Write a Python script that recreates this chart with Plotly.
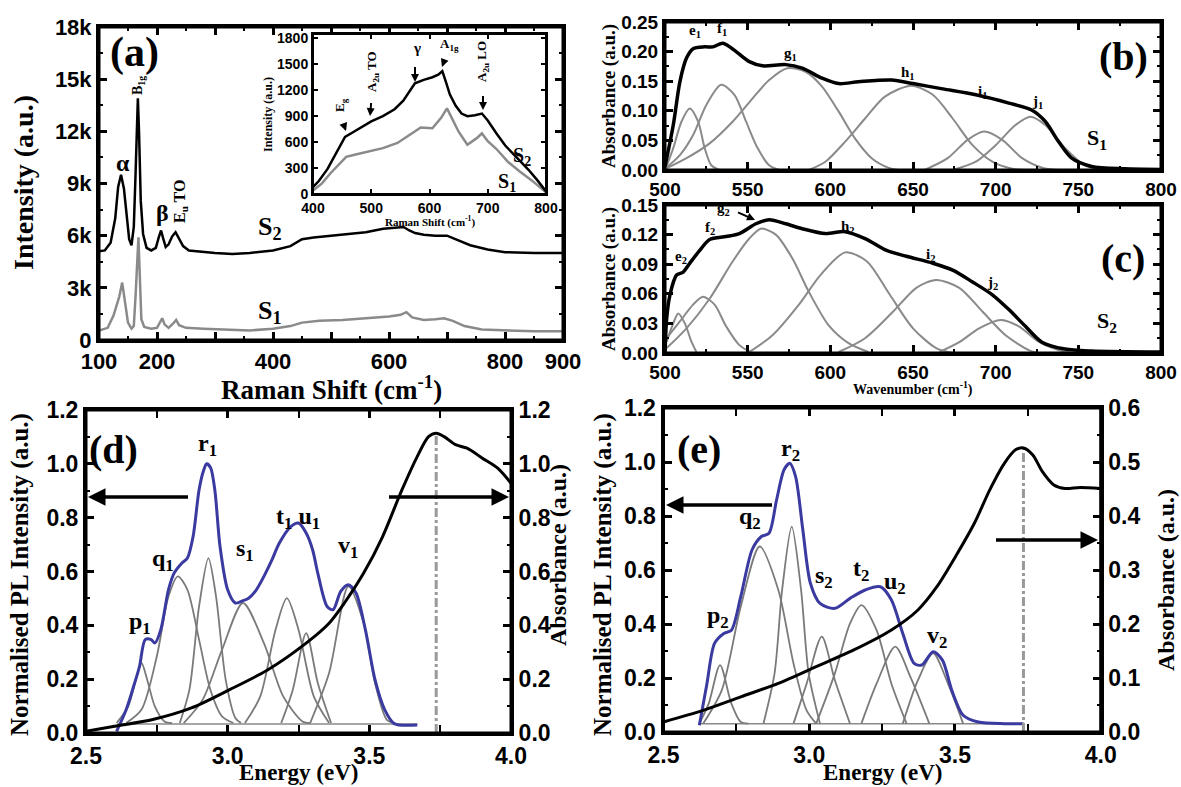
import plotly.graph_objects as go

W, H = 1181, 787

# ---------------- DATA ----------------
# (a) Raman spectra (cm^-1 , intensity)
raman_s2_x = [100, 110, 120, 128, 133, 138, 143, 148, 152, 156, 160, 163, 165, 167, 169, 172, 176, 182, 190, 198, 203, 207, 211, 215, 220, 226, 232, 237, 245, 255, 270, 300, 330, 360, 400, 430, 450, 470, 500, 530, 560, 590, 610, 625, 635, 645, 660, 680, 700, 715, 740, 770, 800, 850, 900]
raman_s2_y = [5100, 5150, 5600, 7000, 8800, 9500, 8700, 6900, 5800, 5450, 6500, 9500, 12500, 13900, 12000, 8000, 6100, 5300, 5150, 5300, 5900, 6300, 5800, 5350, 5500, 5950, 6200, 5900, 5400, 5150, 5100, 5000, 4950, 5000, 5150, 5400, 5800, 5900, 6000, 6100, 6200, 6400, 6450, 6500, 6300, 6150, 6050, 6000, 6000, 5800, 5450, 5200, 5050, 5000, 5000]
raman_s1_x = [100, 115, 125, 130, 135, 140, 145, 150, 156, 160, 163, 166, 168, 170, 173, 178, 190, 200, 206, 209, 213, 220, 228, 233, 238, 250, 280, 320, 360, 400, 430, 450, 480, 520, 560, 600, 620, 630, 640, 660, 680, 695, 710, 730, 760, 800, 850, 900]
raman_s1_y = [550, 700, 1400, 2000, 2500, 3300, 2000, 1000, 650, 800, 2500, 5000, 5900, 4000, 1200, 750, 650, 700, 1100, 1250, 900, 700, 950, 1150, 850, 700, 650, 600, 550, 650, 800, 1000, 1100, 1150, 1250, 1350, 1450, 1600, 1300, 1150, 1200, 1250, 1100, 800, 600, 550, 500, 500]

# (a) inset
inset_s2_x = [400, 410, 425, 440, 455, 465, 480, 500, 520, 540, 555, 575, 590, 605, 615, 622, 628, 635, 645, 655, 665, 678, 690, 700, 715, 730, 750, 770, 785, 800]
inset_s2_y = [80, 150, 290, 470, 660, 700, 760, 840, 900, 980, 1080, 1280, 1320, 1350, 1380, 1420, 1300, 1150, 1020, 930, 900, 910, 930, 850, 700, 560, 420, 280, 160, 30]
inset_s1_x = [400, 415, 430, 445, 457, 475, 495, 520, 545, 565, 585, 605, 620, 630, 640, 650, 665, 680, 690, 700, 715, 735, 755, 775, 800]
inset_s1_y = [40, 120, 240, 340, 430, 460, 490, 530, 590, 680, 770, 760, 880, 990, 850, 720, 570, 640, 700, 610, 520, 370, 260, 160, 20]

# (b) absorbance S1 + components
b_total_x = [500, 505, 509, 513, 517, 524, 529, 535, 543, 551, 559, 573, 583, 595, 605, 617, 637, 650, 668, 688, 708, 722, 730, 738, 746, 758, 778, 800]
b_total_y = [0.006, 0.076, 0.149, 0.189, 0.205, 0.208, 0.208, 0.214, 0.200, 0.183, 0.176, 0.178, 0.172, 0.155, 0.146, 0.149, 0.152, 0.146, 0.137, 0.127, 0.113, 0.101, 0.082, 0.048, 0.020, 0.006, 0.002, 0.001]
b_e1_x = [500, 505, 510, 515, 520, 524, 528, 533]
b_e1_y = [0.0, 0.037, 0.082, 0.104, 0.082, 0.037, 0.008, 0.0]
b_f1_x = [500, 509, 517, 525, 534, 542, 549, 556, 563, 569]
b_f1_y = [0.002, 0.025, 0.059, 0.110, 0.144, 0.127, 0.082, 0.037, 0.008, 0.0]
b_g1_x = [501, 513, 527, 541, 553, 563, 574, 585, 595, 605, 615, 625, 635, 641]
b_g1_y = [0.003, 0.020, 0.045, 0.082, 0.121, 0.152, 0.172, 0.166, 0.141, 0.099, 0.053, 0.020, 0.004, 0.0]
b_h1_x = [587, 597, 609, 621, 633, 649, 662, 674, 686, 698, 710, 718]
b_h1_y = [0.0, 0.014, 0.048, 0.087, 0.124, 0.1425, 0.127, 0.087, 0.042, 0.014, 0.002, 0.0]
b_i1_x = [657, 671, 683, 693, 704, 716, 729, 739]
b_i1_y = [0.0, 0.020, 0.051, 0.065, 0.051, 0.020, 0.003, 0.0]
b_j1_x = [674, 688, 700, 712, 721, 730, 742, 754, 764]
b_j1_y = [0.0, 0.014, 0.042, 0.076, 0.090, 0.076, 0.037, 0.008, 0.0]

# (c) absorbance S2 + components
c_total_x = [500, 501, 503, 507, 511, 515, 521, 527, 537, 545, 555, 563, 573, 583, 597, 609, 621, 634, 646, 662, 674, 686, 698, 708, 718, 728, 742, 758, 800]
c_total_y = [0.0, 0.035, 0.059, 0.079, 0.082, 0.091, 0.104, 0.115, 0.118, 0.121, 0.131, 0.135, 0.131, 0.126, 0.121, 0.123, 0.116, 0.104, 0.098, 0.091, 0.084, 0.072, 0.059, 0.044, 0.027, 0.011, 0.004, 0.002, 0.001]
c_e2_x = [501, 505, 508, 512, 516, 519]
c_e2_y = [0.0115, 0.030, 0.040, 0.030, 0.0115, 0.001]
c_f2_x = [501, 509, 517, 523, 530, 537, 545, 553]
c_f2_y = [0.015, 0.032, 0.049, 0.057, 0.049, 0.027, 0.008, 0.0]
c_g2_x = [501, 513, 527, 541, 551, 558, 567, 577, 587, 599, 611, 623]
c_g2_y = [0.005, 0.025, 0.055, 0.093, 0.116, 0.126, 0.120, 0.096, 0.062, 0.028, 0.010, 0.001]
c_h2_x = [551, 565, 581, 594, 609, 622, 636, 650, 664, 674]
c_h2_y = [0.001, 0.018, 0.049, 0.079, 0.102, 0.093, 0.059, 0.025, 0.005, 0.0]
c_i2_x = [605, 621, 638, 652, 664, 678, 692, 706, 720, 726]
c_i2_y = [0.001, 0.015, 0.042, 0.066, 0.074, 0.066, 0.042, 0.018, 0.003, 0.0]
c_j2_x = [666, 678, 690, 703, 714, 726, 738, 746]
c_j2_y = [0.001, 0.011, 0.025, 0.0335, 0.027, 0.0115, 0.003, 0.0]

# (d) PL S1 (energy eV, normalised intensity) + absorbance
d_pl_x = [2.608, 2.642, 2.670, 2.689, 2.709, 2.730, 2.743, 2.764, 2.791, 2.811, 2.838, 2.858, 2.878, 2.899, 2.915, 2.926, 2.940, 2.955, 2.973, 3.000, 3.027, 3.050, 3.074, 3.100, 3.128, 3.155, 3.182, 3.223, 3.250, 3.277, 3.300, 3.318, 3.351, 3.372, 3.399, 3.426, 3.453, 3.486, 3.520, 3.554, 3.588, 3.669]
d_pl_y = [0.006, 0.087, 0.180, 0.248, 0.347, 0.347, 0.334, 0.384, 0.532, 0.594, 0.631, 0.650, 0.730, 0.903, 0.975, 1.000, 0.985, 0.900, 0.693, 0.532, 0.483, 0.490, 0.501, 0.530, 0.582, 0.640, 0.705, 0.767, 0.780, 0.743, 0.680, 0.594, 0.470, 0.458, 0.526, 0.551, 0.520, 0.384, 0.198, 0.087, 0.035, 0.030]
d_abs_x = [2.5, 2.601, 2.736, 2.872, 3.007, 3.142, 3.277, 3.358, 3.412, 3.480, 3.547, 3.615, 3.669, 3.709, 3.736, 3.764, 3.804, 3.845, 3.899, 3.953, 4.0]
d_abs_y = [0.006, 0.025, 0.050, 0.093, 0.161, 0.235, 0.334, 0.408, 0.483, 0.594, 0.730, 0.903, 1.027, 1.101, 1.114, 1.101, 1.071, 1.058, 1.021, 0.984, 0.928]
d_peak_E, d_peak_A = 3.736, 1.114
d_base_x = [2.61, 3.67]
d_base_y = [0.033, 0.033]
d_comp = {
    "p1": ([2.608, 2.649, 2.676, 2.696, 2.716, 2.743, 2.777, 2.804], [0.037, 0.099, 0.198, 0.260, 0.198, 0.099, 0.043, 0.037]),
    "q1": ([2.642, 2.696, 2.750, 2.791, 2.824, 2.858, 2.899, 2.939, 2.980, 3.020], [0.037, 0.087, 0.285, 0.507, 0.582, 0.532, 0.347, 0.161, 0.062, 0.037]),
    "r1": ([2.831, 2.865, 2.899, 2.932, 2.959, 2.993, 3.027, 3.047], [0.037, 0.161, 0.470, 0.650, 0.507, 0.198, 0.056, 0.037]),
    "s1": ([2.845, 2.912, 2.980, 3.054, 3.128, 3.196, 3.264, 3.291], [0.037, 0.124, 0.309, 0.483, 0.334, 0.136, 0.043, 0.037]),
    "t1": ([3.061, 3.115, 3.169, 3.209, 3.250, 3.304, 3.358], [0.037, 0.136, 0.384, 0.501, 0.384, 0.136, 0.037]),
    "u1": ([3.189, 3.230, 3.277, 3.318, 3.365], [0.037, 0.161, 0.371, 0.186, 0.037]),
    "v1": ([3.291, 3.358, 3.426, 3.480, 3.520, 3.561, 3.588], [0.037, 0.223, 0.545, 0.408, 0.186, 0.050, 0.037]),
}

# (e) PL S2 + absorbance
e_pl_x = [2.623, 2.649, 2.675, 2.707, 2.733, 2.765, 2.804, 2.836, 2.862, 2.888, 2.914, 2.933, 2.953, 2.978, 3.004, 3.037, 3.088, 3.140, 3.192, 3.244, 3.282, 3.321, 3.360, 3.386, 3.425, 3.457, 3.489, 3.528, 3.580, 3.670, 3.735]
e_pl_y = [0.025, 0.179, 0.328, 0.365, 0.377, 0.501, 0.675, 0.724, 0.736, 0.860, 0.972, 0.995, 0.947, 0.749, 0.551, 0.476, 0.458, 0.495, 0.526, 0.538, 0.489, 0.365, 0.254, 0.248, 0.297, 0.266, 0.155, 0.062, 0.037, 0.031, 0.031]
e_abs_x = [2.5, 2.636, 2.765, 2.894, 3.024, 3.153, 3.282, 3.373, 3.438, 3.502, 3.567, 3.619, 3.670, 3.709, 3.735, 3.767, 3.800, 3.838, 3.877, 3.929, 4.0]
e_abs_y = [0.0186, 0.040, 0.065, 0.090, 0.121, 0.152, 0.189, 0.226, 0.269, 0.325, 0.387, 0.448, 0.498, 0.523, 0.526, 0.513, 0.482, 0.458, 0.451, 0.453, 0.451]
e_peak_E, e_peak_A = 3.735, 0.526
e_base_x = [2.62, 3.74]
e_base_y = [0.031, 0.031]
e_comp = {
    "p2": ([2.623, 2.655, 2.694, 2.733, 2.765, 2.791], [0.031, 0.105, 0.248, 0.105, 0.037, 0.031]),
    "q2": ([2.636, 2.700, 2.765, 2.830, 2.894, 2.946, 2.991, 3.024], [0.031, 0.155, 0.464, 0.687, 0.526, 0.254, 0.080, 0.031]),
    "r2": ([2.843, 2.881, 2.907, 2.940, 2.972, 2.998, 3.037], [0.031, 0.217, 0.526, 0.761, 0.526, 0.217, 0.031]),
    "s2": ([2.946, 2.991, 3.043, 3.088, 3.140], [0.031, 0.179, 0.353, 0.192, 0.031]),
    "t2": ([3.024, 3.088, 3.140, 3.179, 3.231, 3.282, 3.334], [0.031, 0.217, 0.402, 0.470, 0.377, 0.179, 0.031]),
    "u2": ([3.179, 3.231, 3.295, 3.347, 3.412], [0.031, 0.179, 0.316, 0.204, 0.031]),
    "v2": ([3.321, 3.373, 3.425, 3.476, 3.528], [0.031, 0.192, 0.291, 0.179, 0.031]),
}

# tick labels
raman_tickvals = [100, 200, 300, 400, 500, 600, 700, 800, 900]
raman_ticktext = ["100", "200", " ", "400", " ", "600", " ", "800", "900"]
raman_ytickvals = [0, 3000, 6000, 9000, 12000, 15000, 18000]
raman_yticktext = ["0", "3k", "6k", "9k", "12k", "15k", "18k"]

# ---------------- STYLE / LAYOUT HELPERS ----------------
SANS = "Liberation Sans, Arial, sans-serif"
SERIF = "Liberation Serif, Times New Roman, serif"
GRAY = "#8a8a8a"
BLUE = "#3a3aa0"


def X(p):
    return p / W


def Y(p):
    return 1 - p / H


def axis(domain, rng, dtick, minor_dt, size, lw=3, **kw):
    d = dict(domain=domain, range=rng, dtick=dtick, ticks="inside", ticklen=8, tickwidth=2.5,
             showline=True, linewidth=lw, linecolor="black", showgrid=False, zeroline=False,
             automargin=False,
             tickfont=dict(family=SANS, size=size, color="black", weight="bold"),
             minor=dict(dtick=minor_dt, ticks="inside", ticklen=4, tickwidth=2, tickcolor="black"),
             tickcolor="black", mirror="allticks")
    d.update(kw)
    return d


fig = go.Figure()


def line(x, y, xa, ya, color, width, shape="spline", dash="solid", smoothing=0.8):
    ln = dict(color=color, width=width, shape=shape, dash=dash)
    if shape == "spline":
        ln["smoothing"] = smoothing
    fig.add_trace(go.Scatter(x=x, y=y, xaxis=xa, yaxis=ya, mode="lines", line=ln,
                             showlegend=False, hoverinfo="skip"))


# (a)
line(raman_s1_x, raman_s1_y, "x", "y", GRAY, 2.5, shape="linear")
line(raman_s2_x, raman_s2_y, "x", "y", "black", 2.5, shape="linear")
# inset
line(inset_s1_x, inset_s1_y, "x2", "y2", GRAY, 2.5, shape="linear")
line(inset_s2_x, inset_s2_y, "x2", "y2", "black", 2.5, shape="linear")
# (b)
for cx, cy in [(b_e1_x, b_e1_y), (b_f1_x, b_f1_y), (b_g1_x, b_g1_y), (b_h1_x, b_h1_y), (b_i1_x, b_i1_y), (b_j1_x, b_j1_y)]:
    line(cx, cy, "x3", "y3", GRAY, 2)
line(b_total_x, b_total_y, "x3", "y3", "black", 3.5)
# (c)
for cx, cy in [(c_e2_x, c_e2_y), (c_f2_x, c_f2_y), (c_g2_x, c_g2_y), (c_h2_x, c_h2_y), (c_i2_x, c_i2_y), (c_j2_x, c_j2_y)]:
    line(cx, cy, "x4", "y4", GRAY, 2)
line(c_total_x, c_total_y, "x4", "y4", "black", 3.5)
# (d)
line(d_base_x, d_base_y, "x5", "y5", GRAY, 1.5, shape="linear")
for k, (cx, cy) in d_comp.items():
    line(cx, cy, "x5", "y5", "#7a7a7a", 1.8)
line(d_pl_x, d_pl_y, "x5", "y5", BLUE, 3)
line([d_peak_E, d_peak_E], [0, d_peak_A], "x5", "y6", "#999999", 3, shape="linear", dash="dashdot")
line(d_abs_x, d_abs_y, "x5", "y6", "black", 3)
# (e)
line(e_base_x, e_base_y, "x6", "y7", GRAY, 1.5, shape="linear")
for k, (cx, cy) in e_comp.items():
    line(cx, cy, "x6", "y7", "#7a7a7a", 1.8)
line(e_pl_x, e_pl_y, "x6", "y7", BLUE, 3)
line([e_peak_E, e_peak_E], [0, e_peak_A], "x6", "y8", "#999999", 3, shape="linear", dash="dashdot")
line(e_abs_x, e_abs_y, "x6", "y8", "black", 3)

layout = dict(template="none", width=W, height=H, autosize=False,
              margin=dict(l=0, r=0, t=0, b=0, pad=0, autoexpand=False),
              paper_bgcolor="white", plot_bgcolor="white", showlegend=False)

PANELS = {
    "a": (99, 563, 27, 340),
    "in": (313, 546, 34, 194),
    "b": (665, 1161, 22, 170),
    "c": (665, 1161, 205, 353),
    "d": (86, 511, 410, 733),
    "e": (663.5, 1100.7, 408, 732),
}

pa, pin, pb, pc, pd, pe = (PANELS[k] for k in ["a", "in", "b", "c", "d", "e"])
# (a) main
layout["xaxis"] = axis([X(pa[0]), X(pa[1])], [100, 900], 100, 50, 22, anchor="y",
                       tickmode="array", tickvals=raman_tickvals, ticktext=raman_ticktext)
layout["yaxis"] = axis([Y(pa[3]), Y(pa[2])], [0, 18000], 3000, 1500, 22, anchor="x",
                       tickmode="array", tickvals=raman_ytickvals, ticktext=raman_yticktext)
# inset
layout["xaxis2"] = axis([X(pin[0]), X(pin[1])], [400, 800], 100, 50, 14, lw=2, anchor="y2", ticklen=5, tickwidth=2,
                        minor=dict(ticks=""))
layout["yaxis2"] = axis([Y(pin[3]), Y(pin[2])], [0, 1850], 300, 150, 14, lw=2, anchor="x2", ticklen=5, tickwidth=2,
                        minor=dict(ticks=""))
# (b)
layout["xaxis3"] = axis([X(pb[0]), X(pb[1])], [500, 800], 50, 25, 19, anchor="y3")
layout["yaxis3"] = axis([Y(pb[3]), Y(pb[2])], [0, 0.25], 0.05, 0.025, 19, anchor="x3", tickformat=".2f")
# (c)
layout["xaxis4"] = axis([X(pc[0]), X(pc[1])], [500, 800], 50, 25, 19, anchor="y4")
layout["yaxis4"] = axis([Y(pc[3]), Y(pc[2])], [0, 0.15], 0.03, 0.015, 19, anchor="x4", tickformat=".2f")
# (d)
layout["xaxis5"] = axis([X(pd[0]), X(pd[1])], [2.5, 4.0], 0.5, 0.25, 23, anchor="y5", tickformat=".1f")
layout["yaxis5"] = axis([Y(pd[3]), Y(pd[2])], [0, 1.2], 0.2, 0.1, 23, anchor="x5", tickformat=".1f", mirror=False)
layout["yaxis6"] = axis([Y(pd[3]), Y(pd[2])], [0, 1.2], 0.2, 0.1, 23, anchor="x5", tickformat=".1f", mirror=False,
                        overlaying="y5", side="right")
# (e)
layout["xaxis6"] = axis([X(pe[0]), X(pe[1])], [2.5, 4.0], 0.5, 0.25, 23, anchor="y7", tickformat=".1f")
layout["yaxis7"] = axis([Y(pe[3]), Y(pe[2])], [0, 1.2], 0.2, 0.1, 23, anchor="x6", tickformat=".1f", mirror=False)
layout["yaxis8"] = axis([Y(pe[3]), Y(pe[2])], [0, 0.6], 0.1, 0.05, 23, anchor="x6", tickformat=".1f", mirror=False,
                        overlaying="y7", side="right")

# frame rectangles (panel borders)
shapes = []
for key, (l, r, t, b) in PANELS.items():
    shapes.append(dict(type="rect", xref="paper", yref="paper", x0=X(l), x1=X(r), y0=Y(b), y1=Y(t),
                       line=dict(color="black", width=2 if key == "in" else 3), fillcolor="rgba(0,0,0,0)",
                       layer="above"))
layout["shapes"] = shapes
fig.update_layout(**layout)

ann = []


def text(px, py, s, size, family=SERIF, angle=0, color="black", xanchor="center"):
    ann.append(dict(x=X(px), y=Y(py), xref="paper", yref="paper", text=s, showarrow=False,
                    textangle=angle, xanchor=xanchor, yanchor="middle",
                    font=dict(family=family, size=size, color=color, weight="bold")))


def arrow(hx, hy, tx, ty, width=3.5, size=1.0):
    ann.append(dict(x=X(hx), y=Y(hy), xref="paper", yref="paper", ax=tx - hx, ay=ty - hy,
                    axref="pixel", ayref="pixel", text=" ", showarrow=True, arrowhead=2,
                    arrowsize=size, arrowwidth=width, arrowcolor="black"))


# axis titles
text(24, 183, "Intensity (a.u.)", 28, angle=-90)
text(331, 388, "Raman Shift (cm<sup>-1</sup>)", 27)
text(268, 115, "Intensity (a.u.)", 12, angle=-90)
text(430, 222, "Raman Shift (cm<sup>-1</sup>)", 11)
text(609, 96, "Absorbance (a.u.)", 19, angle=-90)
text(609, 279, "Absorbance (a.u.)", 19, angle=-90)
text(913, 388, "Wavenumber (cm<sup>-1</sup>)", 14)
text(20, 575, "Normalised PL Intensity (a.u.)", 25, angle=-90)
text(558, 555, "Absorbance (a.u.)", 24, angle=-90)
text(298, 772, "Energy (eV)", 23)
text(603, 575, "Normalised PL Intensity (a.u.)", 25, angle=-90)
text(1166, 580, "Absorbance (a.u.)", 24, angle=-90)
text(882, 772, "Energy (eV)", 23)

# (a) labels
text(134, 52, "(a)", 42)
text(123, 163, "α", 24)
text(138, 86, "B<sub>1g</sub>", 14, angle=-90)
text(162, 213, "β", 24)
text(180, 202, "E<sub>u</sub> TO", 16, angle=-90)
text(270, 228, "S<sub>2</sub>", 26)
text(270, 312, "S<sub>1</sub>", 26)
# inset labels
text(340, 105, "E<sub>g</sub>", 13, angle=-90)
arrow(346, 131, 341, 117, width=2, size=0.8)
text(372, 72, "A<sub>2u</sub> TO", 13, angle=-90)
arrow(370, 116, 372, 93, width=2, size=0.8)
text(417, 48, "γ", 15)
arrow(415, 82, 415, 57, width=2, size=0.8)
text(449, 44, "A<sub>1g</sub>", 13)
arrow(442, 67, 447, 53, width=2, size=0.8)
text(483, 62, "A<sub>2u</sub> LO", 13, angle=-90)
arrow(483, 110, 483, 86, width=2, size=0.8)
text(522, 157, "S<sub>2</sub>", 20)
text(507, 183, "S<sub>1</sub>", 20)
# (b) labels
text(1123, 57, "(b)", 40)
text(695, 31, "e<sub>1</sub>", 15)
text(722, 29, "f<sub>1</sub>", 15)
text(790, 54, "g<sub>1</sub>", 15)
text(908, 73, "h<sub>1</sub>", 15)
text(982, 92, "i<sub>1</sub>", 15)
text(1037, 102, "j<sub>1</sub>", 15)
text(1097, 139, "S<sub>1</sub>", 22)
# (c) labels
text(1123, 258, "(c)", 40)
text(681, 257, "e<sub>2</sub>", 15)
text(710, 228, "f<sub>2</sub>", 15)
text(723, 209, "g<sub>2</sub>", 15)
arrow(755, 220, 735, 211, width=2, size=0.8)
text(848, 227, "h<sub>2</sub>", 15)
text(930, 255, "i<sub>2</sub>", 15)
text(993, 283, "j<sub>2</sub>", 15)
text(1107, 322, "S<sub>2</sub>", 22)
# (d) labels
text(113, 450, "(d)", 40)
text(140, 623, "p<sub>1</sub>", 24)
text(163, 560, "q<sub>1</sub>", 24)
text(207, 445, "r<sub>1</sub>", 24)
text(245, 550, "s<sub>1</sub>", 24)
text(298, 518, "t<sub>1</sub> u<sub>1</sub>", 24)
text(348, 547, "v<sub>1</sub>", 24)
arrow(88, 497, 191, 497)
arrow(509, 497, 386, 497)
# (e) labels
text(699, 450, "(e)", 40)
text(718, 617, "p<sub>2</sub>", 24)
text(750, 518, "q<sub>2</sub>", 24)
text(790, 450, "r<sub>2</sub>", 24)
text(824, 577, "s<sub>2</sub>", 24)
text(861, 570, "t<sub>2</sub>", 24)
text(895, 583, "u<sub>2</sub>", 24)
text(937, 637, "v<sub>2</sub>", 24)
arrow(666, 505, 775, 505)
arrow(1098, 540, 993, 540)

fig.update_layout(annotations=ann)
fig.write_html("out.html")
